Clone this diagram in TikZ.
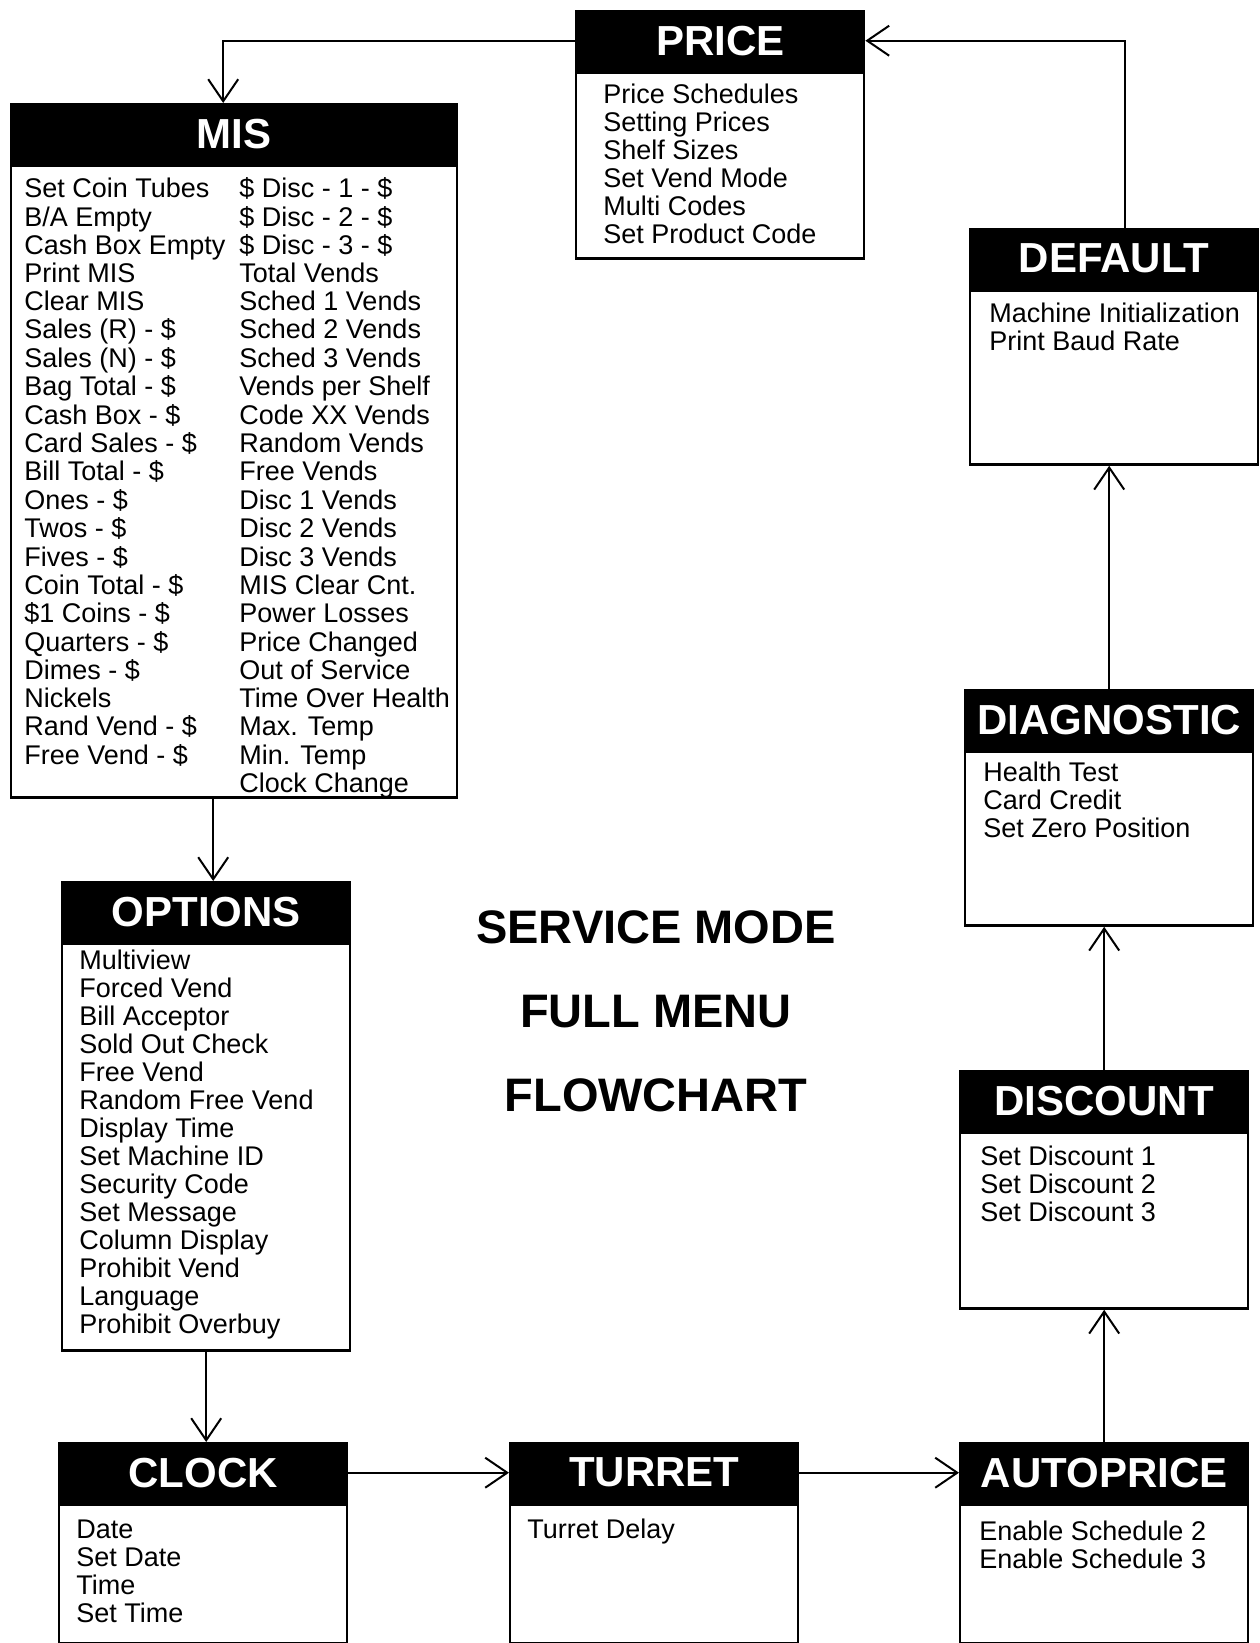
\documentclass[tikz,border=0pt]{standalone}
\usepackage{fontspec}
\setmainfont{Liberation Sans}
\usetikzlibrary{arrows.meta, positioning}
\newcommand{\itemfont}{\fontsize{13.5pt}{14pt}\selectfont}
\newcommand{\headfont}{\fontsize{21pt}{24pt}\selectfont\bfseries}

\begin{document}
\begin{tikzpicture}[
  x=0.5pt, y=-0.5pt,
  head/.style={fill=black,draw=black,line width=1.2pt,text=white,font=\headfont,
  minimum width=144pt,minimum height=29.5pt,inner sep=0pt,anchor=north west},
  body/.style={draw,line width=1.2pt,minimum width=144pt,inner sep=0pt},
  items/.style={anchor=north west,align=left,font=\itemfont,inner sep=0pt},
  flow/.style={line width=1pt,-{Straight Barb[length=11pt,width=15pt,line width=1pt]}},
]
\useasboundingbox (0,0) rectangle (1259,1643);

% top row
\node[head] (price) at (575,10) {PRICE};
\node[body,minimum height=93pt,below=0pt of price] (priceBody) {};
\node[items] (priceItems) at ([shift={(28,12)}]priceBody.north west)
  {Price Schedules\\Setting Prices\\Shelf Sizes\\Set Vend Mode\\Multi Codes\\Set Product Code};

\node[head,minimum width=223pt] (mis) at (10,103) {MIS};
\node[body,minimum width=223pt,minimum height=316pt,below=0pt of mis] (misBody) {};
\node[items] (misItems) at ([shift={(14,13)}]misBody.north west)
  {\begin{tabular}{@{}p{107.5pt}@{}l@{}}
   Set Coin Tubes & \$ Disc - 1 - \$\\
   B/A Empty & \$ Disc - 2 - \$\\
   Cash Box Empty & \$ Disc - 3 - \$\\
   Print MIS & Total Vends\\
   Clear MIS & Sched 1 Vends\\
   Sales (R) - \$ & Sched 2 Vends\\
   Sales (N) - \$ & Sched 3 Vends\\
   Bag Total - \$ & Vends per Shelf\\
   Cash Box - \$ & Code XX Vends\\
   Card Sales - \$ & Random Vends\\
   Bill Total - \$ & Free Vends\\
   Ones - \$ & Disc 1 Vends\\
   Twos - \$ & Disc 2 Vends\\
   Fives - \$ & Disc 3 Vends\\
   Coin Total - \$ & MIS Clear Cnt.\\
   \$1 Coins - \$ & Power Losses\\
   Quarters - \$ & Price Changed\\
   Dimes - \$ & Out of Service\\
   Nickels & Time Over Health\\
   Rand Vend - \$ & Max. Temp\\
   Free Vend - \$ & Min. Temp\\
   & Clock Change
   \end{tabular}};

% right column
\node[head] (default) at (969,228) {DEFAULT};
\node[body,minimum height=87pt,below=0pt of default] (defaultBody) {};
\node[items] (defaultItems) at ([shift={(20,13)}]defaultBody.north west)
  {Machine Initialization\\Print Baud Rate};

\node[head] (diagnostic) at (964,689) {DIAGNOSTIC};
\node[body,minimum height=87pt,below=0pt of diagnostic] (diagnosticBody) {};
\node[items] (diagnosticItems) at ([shift={(19,11)}]diagnosticBody.north west)
  {Health Test\\Card Credit\\Set Zero Position};

\node[head] (discount) at (959,1070) {DISCOUNT};
\node[body,minimum height=88pt,below=0pt of discount] (discountBody) {};
\node[items] (discountItems) at ([shift={(21,14)}]discountBody.north west)
  {Set Discount 1\\Set Discount 2\\Set Discount 3};

% left column
\node[head] (options) at (61,881) {OPTIONS};
\node[body,minimum height=203.5pt,below=0pt of options] (optionsBody) {};
\node[items] (optionsItems) at ([shift={(18,7)}]optionsBody.north west)
  {Multiview\\Forced Vend\\Bill Acceptor\\Sold Out Check\\Free Vend\\Random Free Vend\\Display Time\\
   Set Machine ID\\Security Code\\Set Message\\Column Display\\Prohibit Vend\\Language\\Prohibit Overbuy};

% bottom row
\node[head] (clock) at (58,1442) {CLOCK};
\node[body,minimum height=69.5pt,below=0pt of clock] (clockBody) {};
\node[items] (clockItems) at ([shift={(18,16)}]clockBody.north west)
  {Date\\Set Date\\Time\\Set Time};

\node[head] (turret) at (509,1442) {TURRET};
\node[body,minimum height=69.5pt,below=0pt of turret] (turretBody) {};
\node[items] (turretItems) at ([shift={(18,15)}]turretBody.north west) {Turret Delay};

\node[head] (autoprice) at (959,1442) {AUTOPRICE};
\node[body,minimum height=69.5pt,below=0pt of autoprice] (autopriceBody) {};
\node[items] (autopriceItems) at ([shift={(20,17)}]autopriceBody.north west)
  {Enable Schedule 2\\Enable Schedule 3};

% title
\node[align=center,font=\fontsize{23.5pt}{42pt}\selectfont\bfseries] (title) at (656,1011)
  {SERVICE MODE\\FULL MENU\\FLOWCHART};

% connectors
\draw[flow] (price.west) -| ([xshift=-5.5pt]mis.north);
\draw[flow] ([xshift=3.5pt]misBody.south -| options.north) -- ([xshift=3.5pt]options.north);
\draw[flow] (optionsBody.south) -- (optionsBody.south |- clock.north);
\draw[flow] (clock.east) -- (turret.west);
\draw[flow] (turret.east) -- (autoprice.west);
\draw[flow] (autoprice.north) -- (autoprice.north |- discountBody.south);
\draw[flow] (discount.north) -- (discount.north |- diagnosticBody.south);
\draw[flow] (diagnostic.north) -- (diagnostic.north |- defaultBody.south);
\draw[flow] ([xshift=5.5pt]default.north) |- (price.east);
\end{tikzpicture}
\end{document}
